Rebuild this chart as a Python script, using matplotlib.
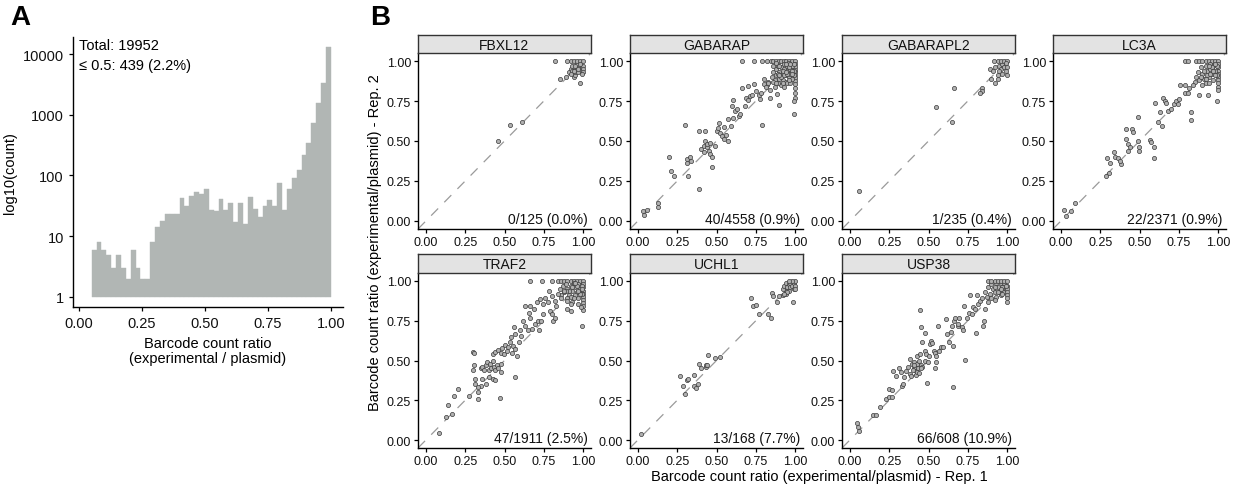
import matplotlib
matplotlib.use("Agg")
import matplotlib.pyplot as plt
import numpy as np

plt.rcParams["font.family"] = ["Liberation Sans", "DejaVu Sans"]
W, H = 1237, 485

# ---- panel A: histogram of barcode count ratios ----
hist_counts = [6, 8, 6, 5, 3, 5, 3, 2, 6, 3, 2, 2, 8, 14, 18, 23, 23, 23, 42, 31,
               46, 53, 49, 61, 27, 26, 41, 27, 35, 17, 35, 16, 44, 28, 21, 32, 40, 32,
               75, 27, 61, 90, 124, 219, 341, 729, 1577, 3326, 12880]
hist_range = (0.05, 1.0)
hist_notes = "Total: 19952\n≤ 0.5: 439 (2.2%)"

# ---- panel B: rep1 vs rep2 per bait ----
baits = ["FBXL12", "GABARAP", "GABARAPL2", "LC3A", "TRAF2", "UCHL1", "USP38"]
notes = ["0/125 (0.0%)", "40/4558 (0.9%)", "1/235 (0.4%)", "22/2371 (0.9%)",
         "47/1911 (2.5%)", "13/168 (7.7%)", "66/608 (10.9%)"]

fbxl12 = np.array([
    (0.46, 0.50), (0.535, 0.60), (0.61, 0.62), (0.82, 1.00), (0.85, 0.89), (0.89, 0.90),
    (0.94, 0.90), (0.95, 0.91), (0.98, 0.86), (0.91, 0.93), (0.92, 0.95), (0.93, 0.94),
    (0.94, 0.96), (0.95, 0.93), (0.96, 0.95), (0.97, 0.97), (0.98, 0.94), (0.99, 0.96),
    (0.96, 0.98), (0.93, 0.97), (0.97, 0.93), (1.00, 0.97), (1.00, 0.95), (1.00, 0.93),
    (0.90, 1.00), (0.92, 1.00), (0.94, 1.00), (0.96, 1.00), (0.98, 1.00), (1.00, 1.00),
    (0.92, 0.92), (0.95, 0.97), (0.98, 0.98), (0.97, 0.95), (0.99, 0.92), (0.94, 0.94)])

gabarap = np.array([
    (0.66, 1.00), (0.74, 1.00), (0.79, 1.00), (0.82, 1.00), (0.845, 1.00), (0.86, 1.00),
    (0.88, 1.00), (0.895, 1.00), (0.91, 1.00), (0.93, 1.00), (0.945, 1.00), (0.96, 1.00),
    (0.98, 1.00), (1.00, 1.00), (1.00, 0.98), (1.00, 0.96), (1.00, 0.945), (1.00, 0.93),
    (1.00, 0.91), (1.00, 0.895), (1.00, 0.875), (1.00, 0.855), (1.00, 0.83), (1.00, 0.80),
    (1.00, 0.77), (0.99, 0.75), (0.99, 0.67),
    (0.85, 0.90), (0.86, 0.93), (0.87, 0.88), (0.88, 0.95), (0.88, 0.91), (0.89, 0.97),
    (0.90, 0.93), (0.90, 0.89), (0.91, 0.96), (0.92, 0.92), (0.92, 0.88), (0.93, 0.98),
    (0.93, 0.95), (0.94, 0.91), (0.94, 0.87), (0.95, 0.97), (0.95, 0.94), (0.96, 0.90),
    (0.96, 0.99), (0.97, 0.95), (0.97, 0.92), (0.98, 0.97), (0.98, 0.89), (0.99, 0.94),
    (0.99, 0.98), (0.91, 0.85), (0.89, 0.86), (0.87, 0.84), (0.83, 0.87), (0.84, 0.82),
    (0.82, 0.85), (0.86, 0.97), (0.88, 0.99), (0.95, 0.86), (0.97, 0.86), (0.93, 0.84),
    (0.89, 0.92), (0.91, 0.90), (0.93, 0.91), (0.95, 0.92), (0.96, 0.96), (0.98, 0.94),
    (0.99, 0.91), (0.90, 0.97), (0.92, 0.94), (0.94, 0.98), (0.97, 0.98), (0.86, 0.87),
    (0.88, 0.86), (0.90, 0.91), (0.92, 0.86), (0.94, 0.93), (0.96, 0.88), (0.98, 0.92),
    (0.30, 0.60), (0.195, 0.40), (0.21, 0.31), (0.23, 0.28), (0.32, 0.28), (0.39, 0.20),
    (0.03, 0.06), (0.04, 0.04), (0.06, 0.07), (0.13, 0.11), (0.13, 0.09), (0.39, 0.56),
    (0.43, 0.56), (0.315, 0.39), (0.31, 0.36), (0.33, 0.40), (0.34, 0.375), (0.40, 0.45),
    (0.42, 0.47), (0.43, 0.50), (0.44, 0.46), (0.45, 0.44), (0.46, 0.42), (0.42, 0.43),
    (0.44, 0.48), (0.46, 0.49), (0.47, 0.40), (0.47, 0.34), (0.49, 0.47), (0.50, 0.56),
    (0.51, 0.58), (0.525, 0.55), (0.535, 0.53), (0.545, 0.59), (0.55, 0.51), (0.57, 0.50),
    (0.56, 0.54), (0.515, 0.615), (0.57, 0.635), (0.59, 0.595), (0.605, 0.645), (0.60, 0.72),
    (0.605, 0.755), (0.62, 0.69), (0.63, 0.70), (0.64, 0.655), (0.65, 0.67), (0.66, 0.83),
    (0.68, 0.72), (0.69, 0.77), (0.70, 0.755), (0.715, 0.78), (0.70, 0.845), (0.725, 0.79),
    (0.74, 0.855), (0.75, 0.81), (0.77, 0.79), (0.775, 0.76), (0.78, 0.80), (0.79, 0.60),
    (0.80, 0.855), (0.80, 0.885), (0.815, 0.835), (0.83, 0.865), (0.84, 0.77), (0.885, 0.795),
    (0.90, 0.725)])

gabarapl2 = np.array([
    (0.06, 0.19), (0.55, 0.71), (0.66, 0.83), (0.65, 0.62), (0.84, 0.83), (0.84, 0.81),
    (0.83, 0.80), (0.92, 0.86), (0.90, 0.89), (0.89, 0.95), (0.91, 0.935), (0.94, 0.89),
    (0.94, 0.915), (0.95, 0.97), (0.96, 0.95), (0.97, 0.98), (0.98, 0.96), (0.99, 0.94),
    (1.00, 0.915), (0.915, 1.00), (0.94, 1.00), (0.96, 1.00), (0.98, 1.00), (1.00, 1.00),
    (0.925, 0.96), (0.95, 0.94), (0.97, 0.92), (1.00, 0.96), (0.99, 0.99)])

lc3a = np.array([
    (0.79, 1.00), (0.81, 1.00), (0.86, 1.00), (0.88, 1.00), (0.90, 1.00), (0.92, 1.00),
    (0.94, 1.00), (0.96, 1.00), (0.98, 1.00), (1.00, 1.00), (1.00, 0.98), (1.00, 0.96),
    (1.00, 0.94), (1.00, 0.92), (1.00, 0.90), (1.00, 0.88), (1.00, 0.86), (1.00, 0.84),
    (1.00, 0.82), (0.99, 0.75),
    (0.86, 0.90), (0.87, 0.93), (0.88, 0.88), (0.89, 0.96), (0.90, 0.92), (0.91, 0.89),
    (0.92, 0.97), (0.93, 0.94), (0.94, 0.90), (0.95, 0.98), (0.95, 0.95), (0.96, 0.92),
    (0.97, 0.97), (0.97, 0.88), (0.98, 0.94), (0.99, 0.91), (0.99, 0.97), (0.92, 0.86),
    (0.90, 0.85), (0.94, 0.86), (0.85, 0.87), (0.84, 0.85),
    (0.91, 0.94), (0.93, 0.91), (0.95, 0.92), (0.96, 0.96), (0.98, 0.91), (0.97, 0.94),
    (0.89, 0.90), (0.94, 0.97), (0.98, 0.98), (0.92, 0.89),
    (0.49, 0.65), (0.60, 0.735), (0.65, 0.77), (0.66, 0.75), (0.67, 0.74), (0.63, 0.68),
    (0.615, 0.62), (0.645, 0.595), (0.68, 0.69), (0.70, 0.70), (0.72, 0.73), (0.73, 0.75),
    (0.745, 0.73), (0.75, 0.76), (0.76, 0.85), (0.79, 0.85), (0.79, 0.80), (0.815, 0.83),
    (0.81, 0.80), (0.83, 0.68), (0.83, 0.63), (0.88, 0.79), (0.935, 0.79),
    (0.415, 0.575), (0.45, 0.575), (0.46, 0.555), (0.49, 0.50), (0.495, 0.46), (0.495, 0.44),
    (0.415, 0.51), (0.425, 0.48), (0.43, 0.44), (0.44, 0.46), (0.565, 0.505), (0.575, 0.495),
    (0.595, 0.465), (0.595, 0.395), (0.335, 0.43), (0.345, 0.40), (0.365, 0.395), (0.385, 0.355),
    (0.375, 0.375), (0.295, 0.395), (0.315, 0.365), (0.305, 0.30), (0.285, 0.28),
    (0.02, 0.07), (0.03, 0.03), (0.065, 0.065), (0.09, 0.115)])

traf2 = np.array([
    (0.66, 1.00), (0.74, 1.00), (0.80, 1.00), (0.84, 1.00), (0.86, 1.00), (0.88, 1.00),
    (0.90, 1.00), (0.92, 1.00), (0.94, 1.00), (0.96, 1.00), (0.98, 1.00), (1.00, 1.00),
    (1.00, 0.98), (1.00, 0.96), (1.00, 0.94), (1.00, 0.92), (1.00, 0.90), (1.00, 0.88),
    (1.00, 0.86), (1.00, 0.84), (1.00, 0.82), (0.99, 0.72),
    (0.85, 0.95), (0.87, 0.97), (0.88, 0.93), (0.89, 0.98), (0.90, 0.95), (0.91, 0.91),
    (0.92, 0.97), (0.93, 0.94), (0.94, 0.99), (0.94, 0.90), (0.95, 0.96), (0.96, 0.93),
    (0.97, 0.98), (0.97, 0.89), (0.98, 0.95), (0.99, 0.92), (0.99, 0.97), (0.86, 0.91),
    (0.90, 0.89), (0.93, 0.87),
    (0.91, 0.94), (0.93, 0.96), (0.95, 0.91), (0.96, 0.97), (0.98, 0.92), (0.89, 0.94),
    (0.92, 0.90), (0.95, 0.99), (0.97, 0.94), (0.99, 0.95),
    (0.35, 0.45), (0.36, 0.46), (0.37, 0.44), (0.38, 0.47), (0.39, 0.49), (0.40, 0.44),
    (0.41, 0.48), (0.415, 0.45), (0.425, 0.50), (0.435, 0.46), (0.44, 0.44), (0.45, 0.47),
    (0.46, 0.45), (0.475, 0.48), (0.48, 0.43), (0.425, 0.385), (0.44, 0.38), (0.40, 0.395),
    (0.36, 0.385), (0.35, 0.34), (0.38, 0.355),
    (0.43, 0.54), (0.44, 0.555), (0.46, 0.565), (0.475, 0.55), (0.485, 0.58), (0.495, 0.54),
    (0.505, 0.595), (0.515, 0.56), (0.525, 0.585), (0.535, 0.615), (0.545, 0.545), (0.555, 0.59),
    (0.565, 0.575), (0.58, 0.53), (0.54, 0.645), (0.565, 0.665), (0.56, 0.71), (0.60, 0.69),
    (0.62, 0.75), (0.63, 0.72), (0.605, 0.655), (0.59, 0.615), (0.655, 0.80), (0.66, 0.77),
    (0.65, 0.69), (0.675, 0.70), (0.695, 0.73), (0.715, 0.75), (0.72, 0.69), (0.735, 0.75),
    (0.745, 0.79), (0.63, 0.84), (0.66, 0.845), (0.69, 0.825), (0.705, 0.865), (0.725, 0.885),
    (0.745, 0.855), (0.76, 0.895), (0.775, 0.865), (0.79, 0.81), (0.80, 0.79), (0.81, 0.75),
    (0.82, 0.77), (0.83, 0.845), (0.78, 0.94), (0.80, 0.905), (0.82, 0.875), (0.84, 0.915),
    (0.86, 0.895), (0.88, 0.94), (0.90, 0.875), (0.925, 0.855), (0.895, 0.825), (0.925, 0.81),
    (0.945, 0.895), (0.965, 0.855), (0.985, 0.835),
    (0.30, 0.555), (0.305, 0.545), (0.305, 0.47), (0.30, 0.44), (0.315, 0.385), (0.31, 0.355),
    (0.33, 0.335), (0.33, 0.30), (0.33, 0.255), (0.275, 0.275), (0.205, 0.32), (0.18, 0.275),
    (0.14, 0.22), (0.13, 0.145), (0.165, 0.165), (0.085, 0.045), (0.47, 0.265), (0.565, 0.395)])

uchl1 = np.array([
    (0.02, 0.04), (0.27, 0.40), (0.285, 0.34), (0.30, 0.29), (0.315, 0.38), (0.32, 0.385),
    (0.355, 0.41), (0.36, 0.34), (0.37, 0.33), (0.38, 0.35), (0.39, 0.475), (0.40, 0.45),
    (0.435, 0.46), (0.435, 0.47), (0.44, 0.47), (0.445, 0.535), (0.49, 0.515), (0.52, 0.525),
    (0.72, 0.89), (0.735, 0.84), (0.75, 0.85), (0.77, 0.79), (0.825, 0.795), (0.845, 0.765),
    (0.85, 0.925), (0.86, 0.905), (0.885, 0.87), (0.90, 0.905), (0.925, 0.91), (0.945, 0.915),
    (0.985, 0.87), (0.94, 0.94),
    (0.92, 0.95), (0.93, 0.97), (0.94, 0.99), (0.95, 0.96), (0.96, 0.98), (0.96, 0.94),
    (0.97, 0.99), (0.97, 0.96), (0.98, 0.97), (0.99, 0.99), (0.99, 0.95), (0.95, 0.93),
    (0.93, 0.92), (1.00, 1.00), (1.00, 0.97), (0.98, 1.00), (0.96, 1.00), (1.00, 0.95)])

usp38 = np.array([
    (0.045, 0.11), (0.05, 0.085), (0.06, 0.06), (0.145, 0.155), (0.165, 0.16), (0.19, 0.205),
    (0.23, 0.26), (0.25, 0.27), (0.265, 0.27), (0.25, 0.32), (0.27, 0.315),
    (0.275, 0.435), (0.295, 0.40), (0.31, 0.45), (0.325, 0.425), (0.33, 0.34), (0.335, 0.355),
    (0.345, 0.395), (0.355, 0.435), (0.37, 0.46), (0.38, 0.415), (0.39, 0.40), (0.38, 0.51),
    (0.395, 0.48), (0.405, 0.45), (0.41, 0.49), (0.415, 0.46), (0.42, 0.435), (0.425, 0.53),
    (0.43, 0.48), (0.435, 0.45), (0.44, 0.50), (0.445, 0.54), (0.45, 0.47), (0.46, 0.46),
    (0.46, 0.615), (0.475, 0.50), (0.48, 0.56), (0.485, 0.54), (0.49, 0.36), (0.495, 0.49),
    (0.505, 0.53), (0.51, 0.605), (0.515, 0.625), (0.52, 0.61), (0.535, 0.56), (0.54, 0.55),
    (0.545, 0.53), (0.55, 0.49), (0.54, 0.45), (0.56, 0.72), (0.565, 0.56), (0.58, 0.585),
    (0.59, 0.585), (0.61, 0.76), (0.62, 0.665), (0.63, 0.615), (0.64, 0.68), (0.65, 0.72),
    (0.655, 0.59), (0.655, 0.335), (0.66, 0.75), (0.67, 0.77), (0.685, 0.72), (0.69, 0.73),
    (0.695, 0.77), (0.715, 0.71), (0.72, 0.69), (0.725, 0.845), (0.735, 0.505), (0.745, 0.77),
    (0.755, 0.80), (0.765, 0.91), (0.775, 0.79), (0.78, 0.835), (0.795, 0.825), (0.805, 0.67),
    (0.81, 0.91), (0.815, 0.855), (0.83, 0.875), (0.84, 0.895), (0.845, 0.72), (0.855, 0.75),
    (0.86, 0.825), (0.445, 0.82), (0.45, 0.71), (0.475, 0.67),
    (0.40, 0.44), (0.42, 0.41), (0.43, 0.43), (0.44, 0.42), (0.45, 0.45), (0.41, 0.47),
    (0.86, 0.93), (0.87, 0.90), (0.88, 0.96), (0.89, 0.92), (0.90, 0.98), (0.90, 0.89),
    (0.91, 0.95), (0.92, 0.93), (0.93, 0.99), (0.93, 0.90), (0.94, 0.96), (0.95, 0.93),
    (0.96, 0.99), (0.96, 0.91), (0.97, 0.96), (0.98, 0.93), (0.98, 0.99), (0.99, 0.95),
    (0.88, 0.87), (0.92, 0.88), (0.88, 1.00), (0.90, 1.00), (0.92, 1.00), (0.94, 1.00),
    (0.96, 1.00), (0.98, 1.00), (1.00, 1.00), (1.00, 0.97), (1.00, 0.95), (1.00, 0.93),
    (1.00, 0.91), (1.00, 0.89), (1.00, 0.87), (0.94, 0.93), (0.96, 0.95), (0.92, 0.96),
    (0.97, 0.92), (0.99, 0.97)])

panel_points = [fbxl12, gabarap, gabarapl2, lc3a, traf2, uchl1, usp38]
ticks = [0.0, 0.25, 0.5, 0.75, 1.0]

BAR = "#b1b6b4"
PT_FACE = "#b0b0b0"
PT_EDGE = "#3a3a3a"
TICK_FS = 9


def box(x0, y0, x1, y1):
    return [x0 / W, 1 - y1 / H, (x1 - x0) / W, (y1 - y0) / H]


def classic(ax):
    ax.spines[["top", "right"]].set_visible(False)
    for s in ["left", "bottom"]:
        ax.spines[s].set_linewidth(1.0)
        ax.spines[s].set_color("black")
    ax.tick_params(length=3, width=0.9, color="black", labelcolor="#111111")


fig = plt.figure(figsize=(W / 100, H / 100), dpi=100)

# ================= A =================
axA = fig.add_axes(box(73, 38, 343, 308))
edges = np.linspace(hist_range[0], hist_range[1], len(hist_counts) + 1)
counts = np.array(hist_counts)
axA.bar(edges[:-1], counts - 1, bottom=1, width=np.diff(edges), align="edge",
        color=BAR, edgecolor=BAR, linewidth=0.3)
axA.set_yscale("log")
axA.set_xlim(-0.024, 1.048)
axA.set_ylim(10 ** -0.165, 10 ** 4.28)
axA.set_yticks([1, 10, 100, 1000, 10000])
axA.set_yticklabels(["1", "10", "100", "1000", "10000"])
axA.minorticks_off()
axA.set_xticks(ticks)
axA.set_xticklabels([f"{t:.2f}" for t in ticks])
classic(axA)
axA.tick_params(labelsize=10.5)
axA.set_ylabel("log10(count)", fontsize=10.5, labelpad=4)
axA.set_xlabel("Barcode count ratio\n(experimental / plasmid)", fontsize=10.5,
               labelpad=4, linespacing=1.15)
axA.text(0.022, 0.995, hist_notes, transform=axA.transAxes, ha="left", va="top",
         fontsize=10.5, linespacing=1.55)
fig.text(10 / W, 1 - 5 / H, "A", fontsize=20, fontweight="bold", ha="left", va="top")

# ================= B =================
col_x = [418, 630, 842, 1053]
rows = [(36, 54, 230), (255, 274, 449)]
for i, (name, pts, note) in enumerate(zip(baits, panel_points, notes)):
    r, c = divmod(i, 4)
    s_top, a_top, a_bot = rows[r]
    x0 = col_x[c]
    ax = fig.add_axes(box(x0, a_top, x0 + 173, a_bot))
    ax.axline((0, 0), slope=1, color="#9a9a9a", lw=0.9, ls=(0, (8, 7)), zorder=1)
    ax.scatter(pts[:, 0], pts[:, 1], s=9, facecolor=PT_FACE, edgecolor=PT_EDGE,
               linewidth=0.5, zorder=3)
    ax.set_xlim(-0.05, 1.05)
    ax.set_ylim(-0.05, 1.05)
    ax.set_xticks(ticks)
    ax.set_yticks(ticks)
    ax.set_xticklabels([f"{t:.2f}" for t in ticks])
    ax.set_yticklabels([f"{t:.2f}" for t in ticks])
    classic(ax)
    ax.tick_params(labelsize=TICK_FS, pad=2)
    ax.text(1.03, -0.03, note, ha="right", va="bottom", fontsize=10, color="#111111")

    sx = fig.add_axes(box(x0, s_top, x0 + 173, a_top))
    sx.set_facecolor("#e3e3e3")
    sx.set_xticks([]); sx.set_yticks([])
    for sp in sx.spines.values():
        sp.set_color("#333333"); sp.set_linewidth(1.0)
    sx.text(0.5, 0.45, name, ha="center", va="center", fontsize=10,
            transform=sx.transAxes, color="#111111")

fig.text(819 / W, 1 - 477 / H, "Barcode count ratio (experimental/plasmid) - Rep. 1",
         ha="center", va="center", fontsize=10.5)
fig.text(375 / W, 1 - 243 / H, "Barcode count ratio (experimental/plasmid) - Rep. 2",
         ha="center", va="center", rotation=90, fontsize=10.5)
fig.text(370 / W, 1 - 5 / H, "B", fontsize=20, fontweight="bold", ha="left", va="top")

fig.savefig("out.png", dpi=100)
